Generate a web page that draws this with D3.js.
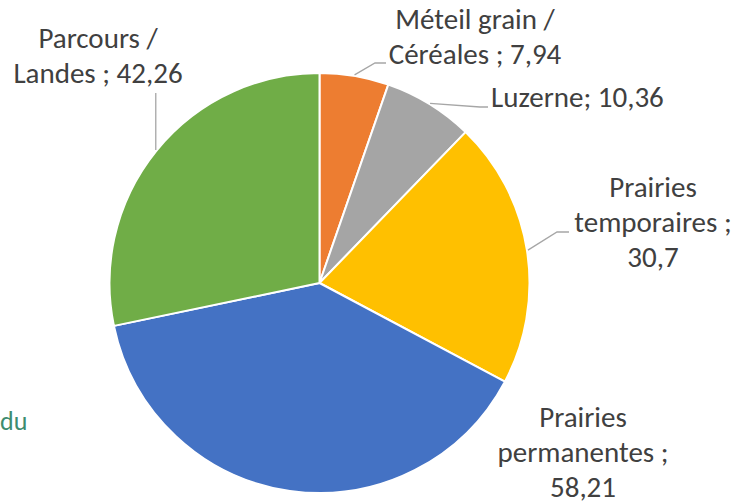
<!DOCTYPE html>
<html>
<head>
<meta charset="utf-8">
<script src="https://cdn.jsdelivr.net/npm/d3@7"></script>
<style>
  html, body { margin: 0; padding: 0; background: #ffffff; }
  svg { display: block; }
</style>
</head>
<body>
<svg id="chart" width="739" height="504"></svg>
<script>
// ---- data ----
const categories = ["Méteil grain / Céréales", "Luzerne", "Prairies temporaires", "Prairies permanentes", "Parcours / Landes"];
const values = [7.94, 10.36, 30.7, 58.21, 42.26];
const colors = ["#ED7D31", "#A5A5A5", "#FFC000", "#4472C4", "#70AD47"];
const labelLines = [
  ["Méteil grain /", "Céréales ; 7,94"],
  ["Luzerne; 10,36"],
  ["Prairies", "temporaires ;", "30,7"],
  ["Prairies", "permanentes ;", "58,21"],
  ["Parcours /", "Landes ; 42,26"]
];

// ---- layout ----
const W = 739, H = 504;
const cx = 319.5, cy = 283, R = 210;
const lineH = 35;
const fontFamily = "Carlito, Lato, 'Open Sans', sans-serif";
const fontSize = 29;
// label anchors (first-line baseline) and leader elbows
const labelLayout = [
  { x: 475, y: 29, anchor: "middle", elbow: [375, 63], end: [386, 63] },
  { x: 491, y: 107, anchor: "start", elbow: [480, 107], end: [488, 107] },
  { x: 653, y: 197, anchor: "middle", elbow: [557, 232], end: [569, 232] },
  { x: 583, y: 427, anchor: "middle", elbow: null, end: null },
  { x: 98, y: 48, anchor: "middle", elbow: null, end: [156, 93] }
];

const svg = d3.select("#chart");
const g = svg.append("g").attr("transform", `translate(${cx},${cy})`);

const pie = d3.pie().sort(null).value(d => d)(values);
const arc = d3.arc().innerRadius(0).outerRadius(R);

g.selectAll("path.slice")
  .data(pie)
  .join("path")
  .attr("class", "slice")
  .attr("d", arc)
  .attr("fill", (d, i) => colors[i])
  .attr("stroke", "#ffffff")
  .attr("stroke-width", 2)
  .attr("stroke-linejoin", "round");

// leader lines
pie.forEach((d, i) => {
  const L = labelLayout[i];
  if (!L.end) return;
  const mid = (d.startAngle + d.endAngle) / 2;
  const ex = cx + (R + 1) * Math.sin(mid);
  const ey = cy - (R + 1) * Math.cos(mid);
  let pts;
  if (L.elbow) pts = [[ex, ey], L.elbow, L.end];
  else pts = [[ex, ey], [ex, L.end[1]]];
  svg.append("path")
    .attr("d", d3.line()(pts))
    .attr("fill", "none")
    .attr("stroke", "#A6A6A6")
    .attr("stroke-width", 1.3);
});

// labels
labelLines.forEach((lines, i) => {
  const L = labelLayout[i];
  const t = svg.append("text")
    .attr("x", L.x)
    .attr("y", L.y)
    .attr("text-anchor", L.anchor)
    .attr("font-family", fontFamily)
    .attr("font-size", fontSize)
    .attr("fill", "#404040");
  lines.forEach((s, j) => {
    t.append("tspan").attr("x", L.x).attr("y", L.y + j * lineH).text(s);
  });
});

// text fragment at the left edge
svg.append("text")
  .attr("x", 0)
  .attr("y", 430)
  .attr("text-anchor", "start")
  .attr("font-family", fontFamily)
  .attr("font-size", 26)
  .attr("fill", "#3E8C6F")
  .text("du");
</script>
</body>
</html>
